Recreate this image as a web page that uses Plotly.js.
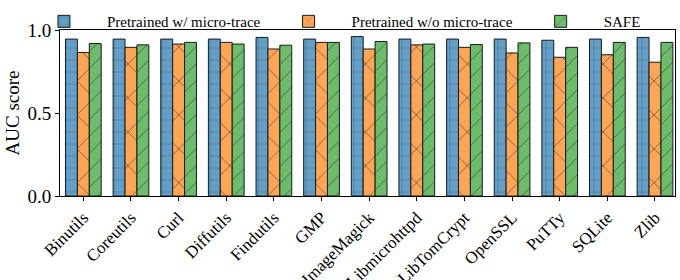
<!DOCTYPE html>
<html>
<head>
<meta charset="utf-8">
<script src="https://cdn.plot.ly/plotly-3.0.1.min.js"></script>
<style>html,body{margin:0;padding:0;background:#fff;}#chart{width:680px;height:280px;}</style>
</head>
<body>
<div id="chart"></div>
<script>
var categories = ["Binutils","Coreutils","Curl","Diffutils","Findutils","GMP","ImageMagick","Libmicrohttpd","LibTomCrypt","OpenSSL","PuTTy","SQLite","Zlib"];
var withTrace  = [0.95,0.95,0.95,0.95,0.96,0.95,0.965,0.95,0.95,0.95,0.943,0.95,0.96];
var withoutTrace = [0.869,0.90,0.92,0.93,0.89,0.93,0.89,0.915,0.90,0.866,0.84,0.855,0.81];
var safe = [0.923,0.915,0.93,0.92,0.913,0.93,0.935,0.92,0.917,0.927,0.90,0.93,0.93];
var seriesNames = ["Pretrained w/ micro-trace","Pretrained w/o micro-trace","SAFE"];
var yTicks = [0.0,0.5,1.0];

var font = "Times New Roman, Liberation Serif, serif";
function mk(name, vals, color, shape, size){
  return {type:"bar", name:name, x:categories, y:vals,
    marker:{color:color, line:{color:"#1a1a1a", width:1},
      pattern:{shape:shape, fgcolor:"#222", bgcolor:color, size:size, solidity:0.08, fillmode:"overlay"}}};
}
var data = [
  mk(seriesNames[0], withTrace, "#62a0ca", "+", 12),
  mk(seriesNames[1], withoutTrace, "#ffa556", "x", 24),
  mk(seriesNames[2], safe, "#6bbc6b", "/", 12)
];
var layout = {
  width:680, height:280,
  margin:{l:60, r:5, t:28, b:84},
  paper_bgcolor:"#fff", plot_bgcolor:"#fff",
  font:{family:font, color:"#000", size:16},
  barmode:"group", bargap:0.25, bargroupgap:0,
  showlegend:true,
  legend:{orientation:"h", x:-0.0635, xanchor:"left", y:1.15, yanchor:"top",
    font:{family:font, size:15, color:"#000"}, itemwidth:76,
    bgcolor:"rgba(0,0,0,0)", tracegroupgap:0, itemclick:false},
  xaxis:{type:"category", range:[-0.49,12.42], tickangle:-45, ticks:"outside", ticklen:4, tickcolor:"#000",
    showline:true, linecolor:"#000", linewidth:1, mirror:true, showgrid:false, tickfont:{family:font, size:17}},
  yaxis:{range:[0,1.005], tickvals:yTicks, ticktext:yTicks.map(function(v){return v.toFixed(1);}),
    ticks:"outside", ticklen:4, tickcolor:"#000", showline:true, linecolor:"#000", linewidth:1, mirror:true,
    showgrid:false, zeroline:false, tickfont:{family:font, size:19},
    title:{text:"AUC score", font:{family:font, size:19}, standoff:2}}
};
Plotly.newPlot("chart", data, layout, {displayModeBar:false, staticPlot:true});
</script>
</body>
</html>
